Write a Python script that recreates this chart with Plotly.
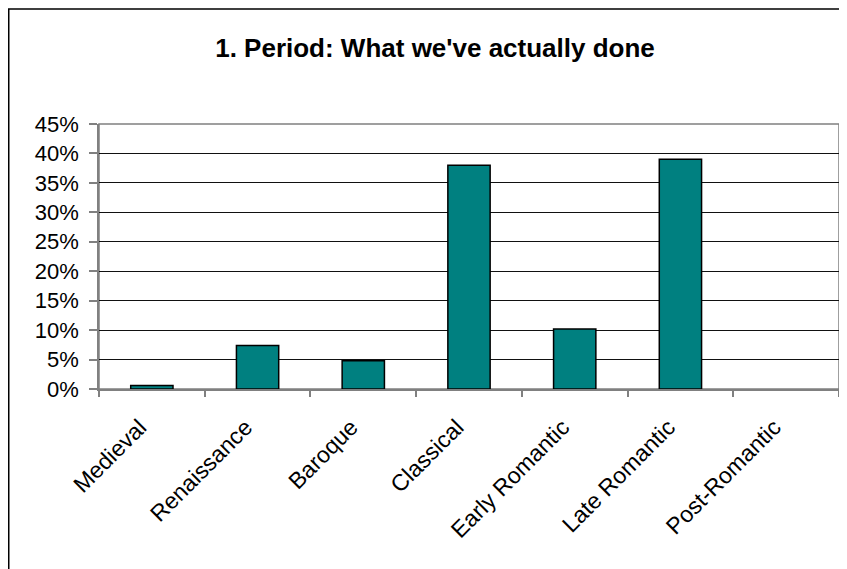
import plotly.graph_objects as go

periods = ["Medieval", "Renaissance", "Baroque", "Classical", "Early Romantic", "Late Romantic", "Post-Romantic"]
shares = [0.006, 0.074, 0.048, 0.380, 0.102, 0.390, 0.0]
y_ticks = [0, 0.05, 0.10, 0.15, 0.20, 0.25, 0.30, 0.35, 0.40, 0.45]
y_labels = ["0%", "5%", "10%", "15%", "20%", "25%", "30%", "35%", "40%", "45%"]
title_text = "1. Period: What we've actually done"

# page body adds an 8px offset; margins compensate
L, T, PW, PH = 91, 116, 740, 265
W, H = 847, 569

fig = go.Figure(go.Bar(
    x=periods, y=shares, width=0.4,
    marker=dict(color="#008080",
                line=dict(color="#000000", width=[1.5 if v > 0 else 0 for v in shares])),
))

fig.update_layout(
    width=W, height=H,
    margin=dict(l=L, r=W - L - PW, t=T, b=H - T - PH),
    paper_bgcolor="white", plot_bgcolor="white",
    font=dict(family="Liberation Sans, Arial, sans-serif", color="black", size=22),
    title=dict(text="<b>" + title_text + "</b>", x=427 / W, xref="container", xanchor="center",
               y=1 - 40 / H, yanchor="middle", font=dict(size=26)),
    showlegend=False,
)
fig.update_xaxes(
    type="category", tickangle=-45, ticks="outside", tickson="boundaries",
    ticklen=6, tickcolor="#808080", tickwidth=1.5, showline=True, linecolor="#808080", linewidth=1.5,
    showgrid=False, tickfont=dict(size=23), ticklabelstandoff=14, ticklabelshift=-12,
)
fig.update_yaxes(
    range=[0, 0.45], tickvals=y_ticks, ticktext=y_labels,
    ticks="outside", ticklen=8, tickcolor="#808080", tickwidth=1.5,
    showline=True, linecolor="#808080", linewidth=1.5,
    showgrid=True, gridcolor="#111111", gridwidth=1,
    tickfont=dict(size=22), zeroline=False, ticklabelstandoff=6,
)
# plot area border
fig.add_shape(type="rect", xref="paper", yref="paper", x0=0, y0=0, x1=1, y1=1,
              line=dict(color="#808080", width=1.5), layer="below")
# outer chart border (extends past the right and bottom edges)
fig.add_shape(type="rect", xref="paper", yref="paper",
              x0=-(L - 0.75) / PW, y0=-300 / PH, x1=1 + 100 / PW, y1=(T + PH - 1) / PH,
              line=dict(color="#000000", width=1.5), layer="below")

fig.write_html("out.html")
